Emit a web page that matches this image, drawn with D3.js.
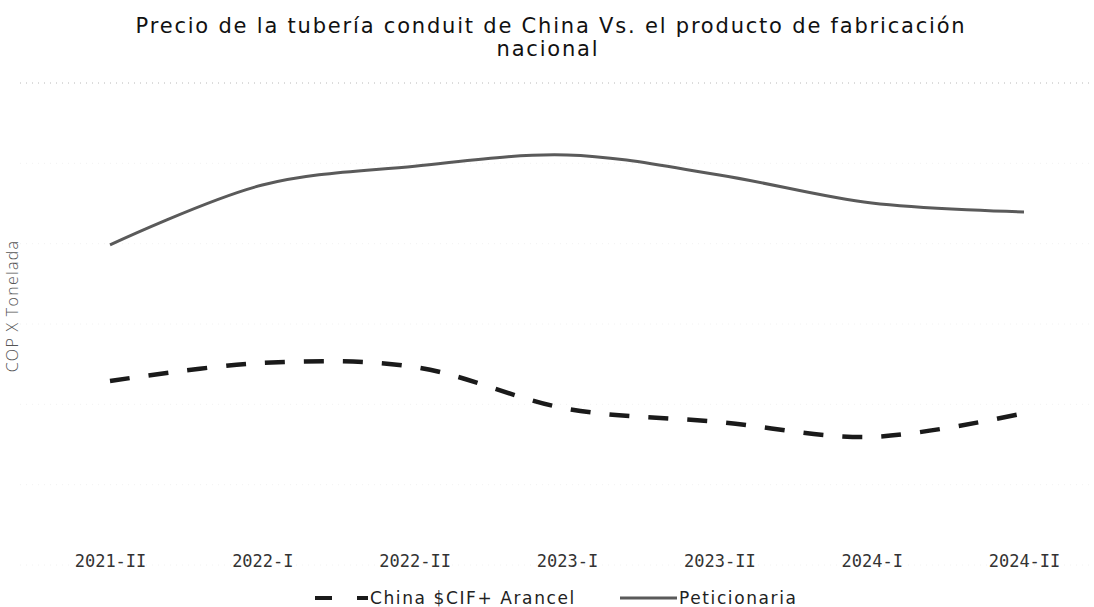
<!DOCTYPE html>
<html><head><meta charset="utf-8">
<script src="https://cdn.jsdelivr.net/npm/d3@7"></script>
<style>html,body{margin:0;padding:0;background:#fff;}svg{display:block;}</style>
</head><body>
<svg id="chart" width="1094" height="607"></svg>
<script>
const categories = ["2021-II","2022-I","2022-II","2023-I","2023-II","2024-I","2024-II"];
const chinaValues = [4580, 5030, 4930, 3890, 3560, 3190, 3780];
const peticionariaValues = [7970, 9460, 9930, 10210, 9710, 9010, 8790];
const yTicks = [0, 2000, 4000, 6000, 8000, 10000, 12000];
const seriesNames = ["China $CIF+ Arancel", "Peticionaria"];

const svg = d3.select("#chart");
const x = d3.scalePoint().domain(categories).range([110, 1024]);
const y = d3.scaleLinear().domain([0, 12000]).range([565, 83]);

// gridlines
svg.append("g").selectAll("line").data(yTicks).join("line")
  .attr("x1", 20).attr("x2", 1090)
  .attr("y1", d => y(d)).attr("y2", d => y(d))
  .attr("stroke", (d,i) => i === yTicks.length-1 ? "#b8b8b8" : "#f2f2f2")
  .attr("stroke-width", 1)
  .attr("stroke-dasharray", "1,5");

// title
const title = svg.append("text").attr("text-anchor","middle")
  .attr("font-family","DejaVu Sans, Verdana, sans-serif").attr("font-size",21)
  .attr("letter-spacing",1.8).attr("fill","#111");
title.append("tspan").attr("x",551).attr("y",33).text("Precio de la tubería conduit de China Vs. el producto de fabricación");
title.append("tspan").attr("x",548).attr("y",56).text("nacional");

// y axis label
svg.append("text").attr("transform","translate(18,306) rotate(-90)")
  .attr("text-anchor","middle").attr("font-family","Open Sans, Liberation Sans, sans-serif")
  .attr("font-size",16).attr("letter-spacing",1.3).attr("font-weight",300).attr("fill","#555").text("COP X Tonelada");

// x axis
const xAxis = d3.axisBottom(x).tickSize(0).tickPadding(0);
const gx = svg.append("g").attr("transform","translate(0,567)").call(xAxis);
gx.select(".domain").remove();
gx.selectAll("text").attr("font-family","DejaVu Sans Mono, monospace")
  .attr("font-size",17).attr("fill","#333").attr("dy","0");

const line = d3.line().x((d,i) => x(categories[i])).y(d => y(d)).curve(d3.curveCatmullRom.alpha(0.5));

svg.append("path").datum(peticionariaValues).attr("d", line)
  .attr("fill","none").attr("stroke","#5a5a5a").attr("stroke-width",3);
svg.append("path").datum(chinaValues).attr("d", line)
  .attr("fill","none").attr("stroke","#1a1a1a").attr("stroke-width",4.5)
  .attr("stroke-dasharray","20,19").attr("stroke-linecap","butt");

// legend
const lg = svg.append("g").attr("font-family","DejaVu Sans, Verdana, sans-serif").attr("font-size",17)
  .attr("letter-spacing",1.6).attr("fill","#222");
lg.append("line").attr("x1",315).attr("x2",368).attr("y1",598).attr("y2",598)
  .attr("stroke","#1a1a1a").attr("stroke-width",4).attr("stroke-dasharray","17,25");
lg.append("text").attr("x",370).attr("y",604).text(seriesNames[0]);
lg.append("line").attr("x1",620).attr("x2",677).attr("y1",598).attr("y2",598)
  .attr("stroke","#5a5a5a").attr("stroke-width",3);
lg.append("text").attr("x",679).attr("y",604).text(seriesNames[1]);
</script>
</body></html>
